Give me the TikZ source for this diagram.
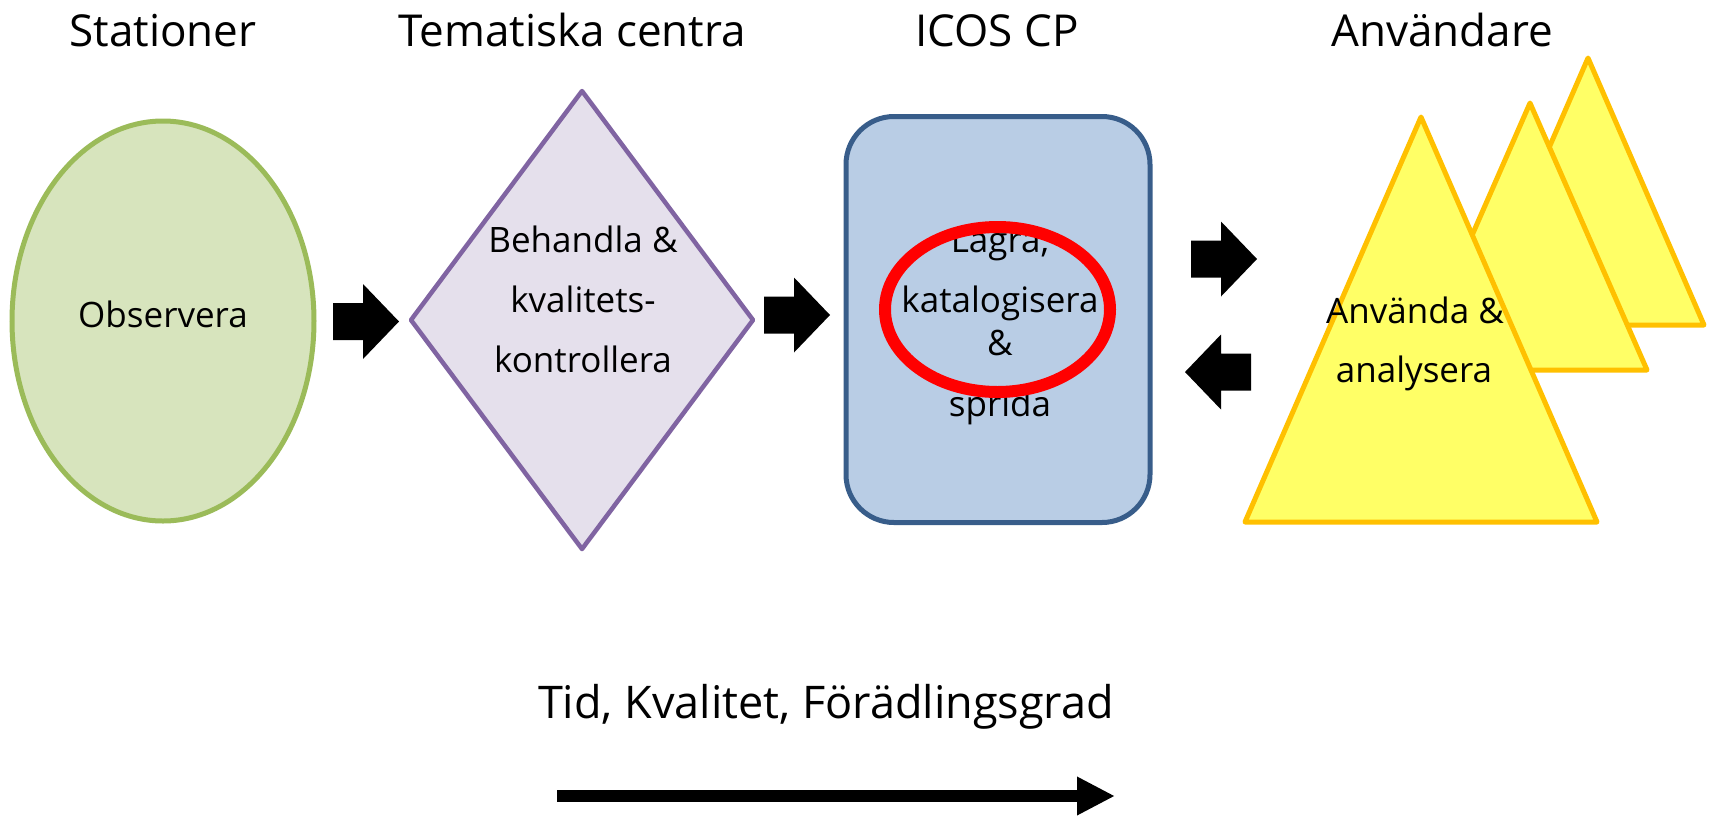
\documentclass[tikz,border=0pt]{standalone}
\usepackage{fontspec}
\setmainfont{Open Sans}
\usetikzlibrary{arrows.meta}
\definecolor{grfill}{HTML}{D7E4BD}
\definecolor{grline}{HTML}{9BBB59}
\definecolor{pufill}{HTML}{E5E0EC}
\definecolor{puline}{HTML}{8064A2}
\definecolor{blfill}{HTML}{B9CDE5}
\definecolor{blline}{HTML}{385D8A}
\definecolor{yefill}{HTML}{FFFF66}
\definecolor{yeline}{HTML}{FFC000}
\definecolor{ringred}{HTML}{FF0000}
\begin{document}
\begin{tikzpicture}[x=1pt,y=-1pt,
  headtxt/.style={font=\fontsize{44}{50}\selectfont, anchor=base, inner sep=0},
  bodytxt/.style={font=\fontsize{35}{40}\selectfont, anchor=base, inner sep=0},
  tri/.style={fill=yefill, draw=yeline, line width=5pt, line join=round},
  blockarr/.pic={\fill[black] (-30,-18.5) -- (0,-18.5) -- (0,-37.5) -- (36,0) -- (0,37.5) -- (0,18.5) -- (-30,18.5) -- cycle;}]
\useasboundingbox (0,0) rectangle (1714,815);

% headings
\node[headtxt] (h1) at (163,46) {Stationer};
\node[headtxt] (h2) at (572,46) {Tematiska centra};
\node[headtxt] (h3) at (997,46) {ICOS CP};
\node[headtxt] (h4) at (1442,46) {Användare};

% stations ellipse
\draw[fill=grfill, draw=grline, line width=5pt] (163,321) ellipse [x radius=151, y radius=200];
\coordinate (obs) at (163,321);
\node[bodytxt] (t1) at (163,327) {Observera};

% diamond
\draw[fill=pufill, draw=puline, line width=4.5pt, line join=round]
  (411,320) -- (582,91) -- (753,320) -- (582,549) -- cycle;
\coordinate (dia) at (582,320);
\node[bodytxt] (t2a) at (583,252) {Behandla \&};
\node[bodytxt] (t2b) at (583,312) {kvalitets-};
\node[bodytxt] (t2c) at (583,372) {kontrollera};

% ICOS CP rounded box
\node[draw=blline, fill=blfill, line width=5pt, rounded corners=48pt,
  minimum width=304pt, minimum height=406pt, inner sep=0] (cp) at (998,319.5) {};
\node[bodytxt] (t3a) at (1000,252) {Lagra,};
\node[bodytxt] (t3b) at (1000,312) {katalogisera};
\node[bodytxt] (t3c) at (1000,355) {\&};
\node[bodytxt] (t3d) at (1000,416) {sprida};
\draw[ringred, line width=12pt] (997.5,309.5) ellipse [x radius=112.5, y radius=82.5];

% users triangles
\draw[tri] (1588,58) -- (1704,325) -- (1472,325) -- cycle;
\draw[tri] (1530,103) -- (1647,370) -- (1413,370) -- cycle;
\draw[tri] (1421,117) -- (1597,522) -- (1245,522) -- cycle;
\coordinate (users) at (1421,400);
\node[bodytxt] (t4a) at (1415,323) {Använda \&};
\node[bodytxt] (t4b) at (1414,382) {analysera};

% block arrows
\pic at (363,321.5) {blockarr};
\pic at (794,315) {blockarr};
\pic at (1221,259) {blockarr};
\pic[xscale=-1] at (1221,372) {blockarr};

% bottom
\node[headtxt, font=\fontsize{45}{50}\selectfont] (tq) at (826,718) {Tid, Kvalitet, Förädlingsgrad};
\coordinate (ts) at (557,796);
\coordinate (te) at (1115,796);
\draw[line width=12.5pt, -{Triangle[length=38pt,width=36pt]}] (ts) -- (te);
\end{tikzpicture}
\end{document}
